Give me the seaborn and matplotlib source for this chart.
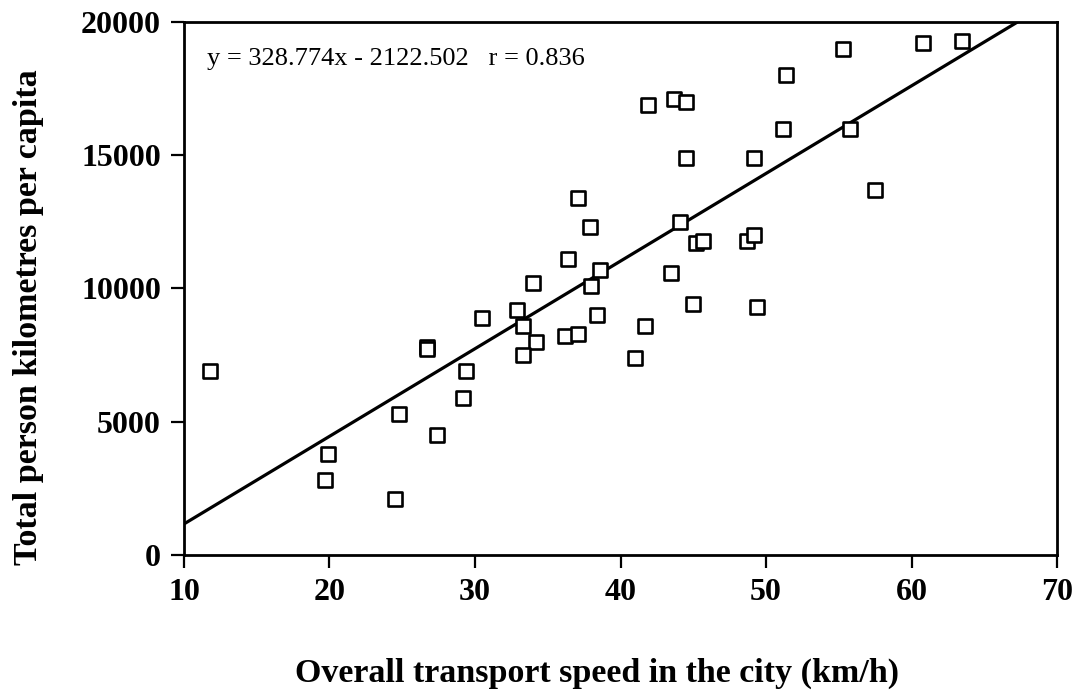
import numpy as np
import pandas as pd
import matplotlib
matplotlib.use("Agg")
import matplotlib.pyplot as plt
import seaborn as sns

# Overall transport speed (km/h) and total person kilometres per capita per city
speed = [11.8, 19.9, 19.7, 24.5, 24.8, 27.4, 26.7, 26.7, 29.4, 29.2,
         30.5, 32.9, 33.3, 34.2, 33.3, 36.2, 37.1, 38.4, 34.0, 38.0,
         38.6, 36.4, 37.9, 37.1, 41.0, 41.7, 45.0, 49.4, 43.5, 44.1,
         45.2, 45.7, 48.7, 49.2, 44.5, 49.2, 57.5, 51.2, 55.8, 41.9,
         43.7, 44.5, 51.4, 55.3, 60.8, 63.5]
pkm = [6900, 3800, 2800, 2100, 5300, 4500, 7800, 7720, 6900, 5900,
       8900, 9200, 8600, 8000, 7500, 8200, 8300, 9000, 10200, 10100,
       10700, 11100, 12300, 13400, 7400, 8600, 9400, 9300, 10600, 12500,
       11700, 11800, 11800, 12000, 14900, 14900, 13700, 16000, 16000, 16900,
       17100, 17000, 18000, 19000, 19200, 19300]

# Fitted regression
slope = 328.774
intercept = -2122.502
r_value = 0.836

x_ticks = [10, 20, 30, 40, 50, 60, 70]
y_ticks = [0, 5000, 10000, 15000, 20000]

sns.set_theme(style="white")
plt.rcParams['font.family'] = ['Liberation Serif', 'DejaVu Serif']
plt.rcParams.update({
    "text.color": "black",
    "axes.labelcolor": "black",
    "xtick.color": "black",
    "ytick.color": "black",
    "axes.edgecolor": "black",
})

fig = plt.figure(figsize=(10.74, 6.91), dpi=100)
ax = fig.add_axes([0.1713, 0.1968, 0.8129, 0.7714])

df = pd.DataFrame({"speed": speed, "pkm": pkm})
sns.scatterplot(data=df, x="speed", y="pkm", marker="s", s=115,
                facecolor="white", edgecolor="black", linewidth=1.9,
                ax=ax, zorder=3)

# Regression line from the left edge up to where it meets the top of the range
x_end = (20000 - intercept) / slope
line_x = np.array([10.0, x_end])
line_df = pd.DataFrame({"x": line_x, "y": slope * line_x + intercept})
sns.lineplot(data=line_df, x="x", y="y", color="black", linewidth=2.3,
             ax=ax, zorder=2)

ax.text(11.58, 18370, f"y = {slope:.3f}x - {-intercept:.3f}   r = {r_value:.3f}",
        fontsize=19, va="baseline", ha="left", color="black")

ax.set_xlim(10, 70)
ax.set_ylim(0, 20000)
ax.set_xticks(x_ticks)
ax.set_yticks(y_ticks)
ax.set_xticklabels([str(t) for t in x_ticks], fontsize=23, fontweight="bold")
ax.set_yticklabels([str(t) for t in y_ticks], fontsize=23, fontweight="bold")
ax.tick_params(axis="both", direction="out", length=9.5, width=1.6,
               color="black", labelcolor="black", pad=7,
               bottom=True, left=True)

for side in ["top", "right", "bottom", "left"]:
    ax.spines[side].set_visible(True)
    ax.spines[side].set_color("black")
    ax.spines[side].set_linewidth(2.0)

ax.set_xlabel("Overall transport speed in the city (km/h)", fontsize=24.5,
              fontweight="bold", color="black")
ax.set_ylabel("Total person kilometres per capita", fontsize=24.5,
              fontweight="bold", color="black")
ax.xaxis.set_label_coords(0.473, -0.193)
ax.yaxis.set_label_coords(-0.160, 0.4456)
ax.grid(False)

fig.savefig("out.png", dpi=100, facecolor="white")
